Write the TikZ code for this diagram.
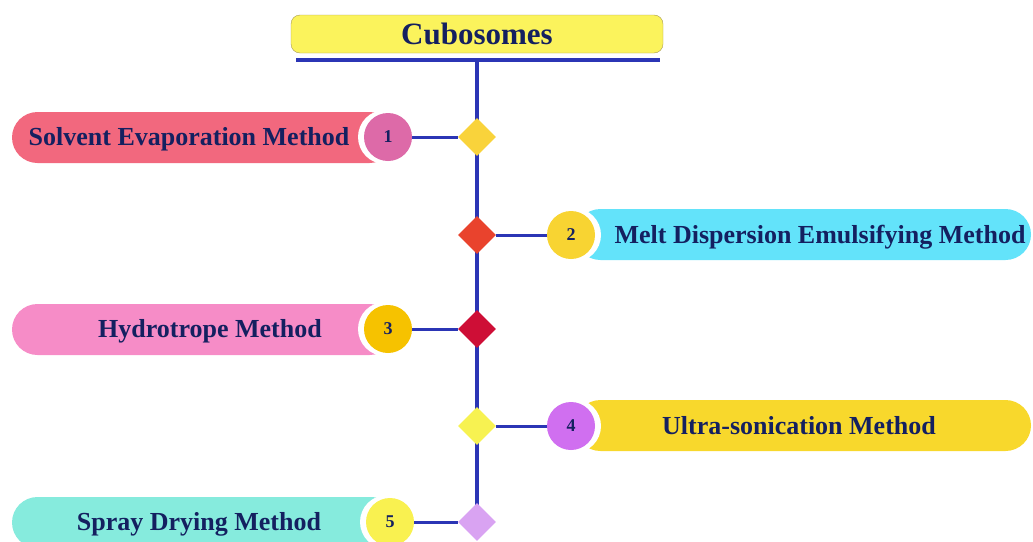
\documentclass[tikz,border=0pt]{standalone}
\usepackage{fontspec}
\setmainfont{Liberation Serif}
\usepackage{tikz}
\usetikzlibrary{shapes.geometric,backgrounds,positioning}

\definecolor{navy}{HTML}{142060}
\definecolor{stemblue}{HTML}{2B35B5}
\definecolor{titleyellow}{HTML}{FBF35C}
\definecolor{titleedge}{HTML}{A89A50}
\definecolor{gemone}{HTML}{F9D33B}
\definecolor{gemtwo}{HTML}{E9432D}
\definecolor{gemthree}{HTML}{CE0E36}
\definecolor{gemfour}{HTML}{F7F251}
\definecolor{gemfive}{HTML}{D9A3F2}
\definecolor{pillone}{HTML}{F2687E}
\definecolor{circone}{HTML}{DD6AA8}
\definecolor{pilltwo}{HTML}{63E3FA}
\definecolor{circtwo}{HTML}{F8D432}
\definecolor{pillthree}{HTML}{F68CC7}
\definecolor{circthree}{HTML}{F6C200}
\definecolor{pillfour}{HTML}{F8D82C}
\definecolor{circfour}{HTML}{D06FF0}
\definecolor{pillfive}{HTML}{86EBDD}
\definecolor{circfive}{HTML}{F9F150}

\begin{document}
\begin{tikzpicture}[x=1pt,y=-1pt,
  method/.style={font=\fontsize{26}{30}\selectfont\bfseries,text=navy,inner sep=0,anchor=base},
  num/.style={circle,minimum size=48,inner sep=0,font=\fontsize{18}{20}\selectfont\bfseries,text=navy},
  gem/.style={diamond,minimum size=38,inner sep=0},
  stem/.style={line width=4pt,draw=stemblue},
  link/.style={line width=3pt,draw=stemblue}]
\useasboundingbox (0,0) rectangle (1033,541);

% Title
\node[draw=titleedge,fill=titleyellow,rounded corners=9,minimum width=372,minimum height=38,
  font=\fontsize{31}{34}\selectfont\bfseries,text=navy] (title) at (477,34) {Cubosomes};
\coordinate (barL) at (296,60);
\coordinate (barR) at (660,60);
\coordinate (stemtop) at (477,60);

% Diamonds on the stem
\node[gem,fill=gemone] (d1) at (477,137) {};
\node[gem,fill=gemtwo] (d2) at (477,235) {};
\node[gem,fill=gemthree] (d3) at (477,329) {};
\node[gem,fill=gemfour] (d4) at (477,426) {};
\node[gem,fill=gemfive] (d5) at (477,522) {};

% Method 1
\fill[pillone,rounded corners=25.5] (12,112) rectangle (395,163);
\fill[white] (385,137) circle (27);
\node[num,fill=circone] (n1) at (388,137) {1};
\node[method] (t1) at (189,145) {Solvent Evaporation Method};

% Method 2
\fill[pilltwo,rounded corners=25.5] (575,209) rectangle (1031,260);
\fill[white] (574,235) circle (27);
\node[num,fill=circtwo] (n2) at (571,235) {2};
\node[method] (t2) at (820,243) {Melt Dispersion Emulsifying Method};

% Method 3
\fill[pillthree,rounded corners=25.5] (12,304) rectangle (395,355);
\fill[white] (385,329) circle (27);
\node[num,fill=circthree] (n3) at (388,329) {3};
\node[method] (t3) at (210,337) {Hydrotrope Method};

% Method 4
\fill[pillfour,rounded corners=25.5] (575,400) rectangle (1031,451);
\fill[white] (574,426) circle (27);
\node[num,fill=circfour] (n4) at (571,426) {4};
\node[method] (t4) at (799,434) {Ultra-sonication Method};

% Method 5
\fill[pillfive,rounded corners=25.5] (12,497) rectangle (397,548);
\fill[white] (387,522) circle (27);
\node[num,fill=circfive] (n5) at (390,522) {5};
\node[method] (t5) at (199,530) {Spray Drying Method};

% Stem and links
\begin{scope}[on background layer]
\draw[stem] (barL) -- (barR);
\draw[stem] (stemtop) -- (d5.center);
\draw[link] (n1) -- (d1);
\draw[link] (d2) -- (n2);
\draw[link] (n3) -- (d3);
\draw[link] (d4) -- (n4);
\draw[link] (n5) -- (d5);
\end{scope}

\end{tikzpicture}
\end{document}
